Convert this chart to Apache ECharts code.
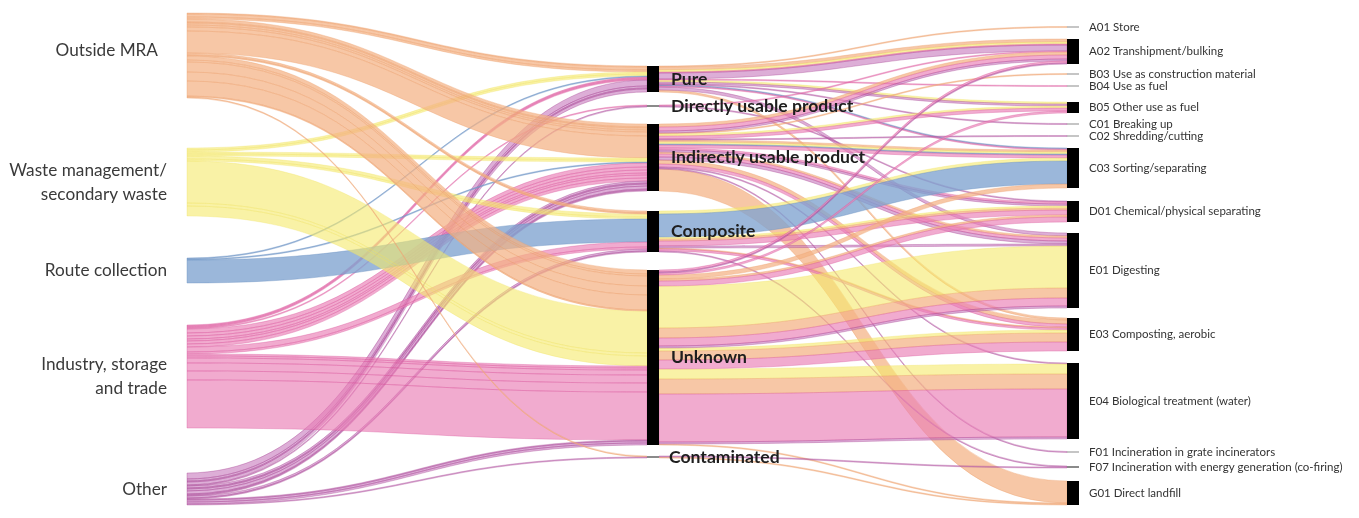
<!DOCTYPE html>
<html>
<head>
<meta charset="utf-8">
<script src="https://cdn.jsdelivr.net/npm/echarts@6/dist/echarts.min.js"></script>
<style>
  html, body { margin: 0; padding: 0; background: #fff; }
  #chart { width: 1359px; height: 518px; }
</style>
</head>
<body>
<div id="chart"></div>
<script>
// origins of the material (left column)
const sourceKeys = ['outside', 'waste', 'route', 'industry', 'other'];
const sources = ['Outside MRA', 'Waste management/\nsecondary waste', 'Route collection', 'Industry, storage\nand trade', 'Other'];
// quality of the material (middle column)
const stages = ['Pure', 'Directly usable product', 'Indirectly usable product', 'Composite', 'Unknown', 'Contaminated'];
// processing (right column)
const treatments = [
  'A01 Store', 'A02 Transhipment/bulking', 'B03 Use as construction material', 'B04 Use as fuel',
  'B05 Other use as fuel', 'C01 Breaking up', 'C02 Shredding/cutting', 'C03 Sorting/separating',
  'D01 Chemical/physical separating', 'E01 Digesting', 'E03 Composting, aerobic',
  'E04 Biological treatment (water)', 'F01 Incineration in grate incinerators',
  'F07 Incineration with energy generation (co-firing)', 'G01 Direct landfill'
];

// [stage, treatment code, origin, value]
const flows = [
  ['Pure', 'A01', 'outside', 1], ['Pure', 'A02', 'outside', 3], ['Pure', 'E03', 'outside', 2],
  ['Pure', 'A02', 'waste', 2], ['Pure', 'B05', 'waste', 2],
  ['Pure', 'C03', 'route', 1],
  ['Pure', 'A02', 'industry', 1], ['Pure', 'B04', 'industry', 1], ['Pure', 'C03', 'industry', 1],
  ['Pure', 'A02', 'other', 6], ['Pure', 'B05', 'other', 2], ['Pure', 'C01', 'other', 1], ['Pure', 'E01', 'other', 3],

  ['Directly usable product', 'A02', 'industry', 1],
  ['Directly usable product', 'D01', 'other', 1],

  ['Indirectly usable product', 'A02', 'outside', 3], ['Indirectly usable product', 'B03', 'outside', 1],
  ['Indirectly usable product', 'C03', 'outside', 2], ['Indirectly usable product', 'E01', 'outside', 2],
  ['Indirectly usable product', 'E03', 'outside', 4], ['Indirectly usable product', 'G01', 'outside', 22],
  ['Indirectly usable product', 'B05', 'waste', 2], ['Indirectly usable product', 'C03', 'waste', 2],
  ['Indirectly usable product', 'C03', 'route', 1],
  ['Indirectly usable product', 'A02', 'industry', 4], ['Indirectly usable product', 'B05', 'industry', 3],
  ['Indirectly usable product', 'C03', 'industry', 3], ['Indirectly usable product', 'D01', 'industry', 2],
  ['Indirectly usable product', 'E01', 'industry', 3], ['Indirectly usable product', 'E03', 'industry', 3],
  ['Indirectly usable product', 'A02', 'other', 2], ['Indirectly usable product', 'C02', 'other', 1],
  ['Indirectly usable product', 'D01', 'other', 2], ['Indirectly usable product', 'E01', 'other', 3],
  ['Indirectly usable product', 'E04', 'other', 1], ['Indirectly usable product', 'F01', 'other', 1],

  ['Composite', 'C03', 'waste', 3], ['Composite', 'D01', 'waste', 2],
  ['Composite', 'D01', 'outside', 2], ['Composite', 'E03', 'outside', 1],
  ['Composite', 'C03', 'route', 23],
  ['Composite', 'D01', 'industry', 5], ['Composite', 'E03', 'industry', 2],
  ['Composite', 'E01', 'other', 2], ['Composite', 'F07', 'other', 1],

  ['Unknown', 'E01', 'waste', 42], ['Unknown', 'E03', 'waste', 3], ['Unknown', 'E04', 'waste', 10],
  ['Unknown', 'C03', 'outside', 4], ['Unknown', 'D01', 'outside', 2], ['Unknown', 'E01', 'outside', 10],
  ['Unknown', 'E03', 'outside', 9], ['Unknown', 'E04', 'outside', 15], ['Unknown', 'G01', 'outside', 1],
  ['Unknown', 'A02', 'industry', 2], ['Unknown', 'B05', 'industry', 2], ['Unknown', 'D01', 'industry', 5],
  ['Unknown', 'E01', 'industry', 8], ['Unknown', 'E03', 'industry', 9], ['Unknown', 'E04', 'industry', 48],
  ['Unknown', 'A02', 'other', 1], ['Unknown', 'E01', 'other', 2], ['Unknown', 'E04', 'other', 2],

  ['Contaminated', 'G01', 'outside', 1],
  ['Contaminated', 'F07', 'other', 1]
];

// layout: column x and node tops in pixels
const W = 1359, H = 518;
const colX = [175, 647, 1067];
const sourceTop = [13, 148, 258, 325, 473];
const stageTop = [66, 105, 124, 211, 270, 456];
const treatmentTop = [26.5, 39, 73.5, 85.5, 102, 123.5, 135.5, 148, 201, 233, 318, 363, 451.5, 466, 481];

const palette = {
  outside:  {color: '#f4b183', opacity: 0.72, borderColor: '#eba070'},
  waste:    {color: '#f5ea6a', opacity: 0.6,  borderColor: '#eee060'},
  route:    {color: '#7fa3cf', opacity: 0.78, borderColor: '#6a90c0'},
  industry: {color: '#e97fb6', opacity: 0.66, borderColor: '#d94f97'},
  other:    {color: '#c87cbf', opacity: 0.62, borderColor: '#9a2c84'}
};

const treatmentName = code => treatments.find(t => t.startsWith(code));

const nodes = [];
sources.forEach((name, i) => nodes.push({
  name,
  localX: colX[0] / W,
  localY: sourceTop[i] / H,
  itemStyle: {color: 'rgba(0,0,0,0)'},
  label: {position: 'left', distance: i === 0 ? 17 : 8, offset: i === 0 ? [0, -5] : [0, 0],
    fontSize: 17.2, lineHeight: 24, color: '#3a3a3a'}
}));
stages.forEach((name, i) => nodes.push({
  name,
  localX: colX[1] / W,
  localY: stageTop[i] / H,
  label: {position: 'right', distance: name === 'Contaminated' ? 10 : 12, fontSize: 17.6,
    fontWeight: 'bold', color: '#1e1e1e'}
}));
treatments.forEach((name, i) => nodes.push({
  name,
  localX: colX[2] / W,
  localY: treatmentTop[i] / H,
  label: {position: 'right', distance: 10, fontSize: 11.5, color: '#333'}
}));

const links = [];
flows.forEach(([stage, code, origin, value]) => {
  const style = Object.assign({borderWidth: 0.5}, palette[origin]);
  links.push({source: sources[sourceKeys.indexOf(origin)], target: stage, value, lineStyle: style});
  links.push({source: stage, target: treatmentName(code), value, lineStyle: style});
});

// invisible padding node so one pixel equals one unit
const leftTotal = flows.reduce((s, f) => s + f[3], 0);
nodes.push({name: '_pad', value: H - leftTotal, localX: 0, localY: 1.2,
  itemStyle: {color: 'rgba(0,0,0,0)'}, label: {show: false}});

// tiny nodes show as grey ticks
const nodeValue = {};
links.forEach(l => { nodeValue[l.target] = (nodeValue[l.target] || 0) + l.value; });
nodes.forEach(n => {
  if (!n.itemStyle) n.itemStyle = {color: nodeValue[n.name] <= 2 ? '#8a8a8a' : '#000'};
});

const chart = echarts.init(document.getElementById('chart'));
chart.setOption({
  animation: false,
  textStyle: {fontFamily: 'Lato, "Open Sans", sans-serif'},
  series: [{
    type: 'sankey',
    left: 0, top: 0, right: 0, bottom: 0,
    nodeWidth: 12,
    nodeGap: 0,
    nodeAlign: 'left',
    layoutIterations: 0,
    draggable: false,
    emphasis: {disabled: true},
    lineStyle: {curveness: 0.5},
    data: nodes,
    links: links
  }]
});
</script>
</body>
</html>
